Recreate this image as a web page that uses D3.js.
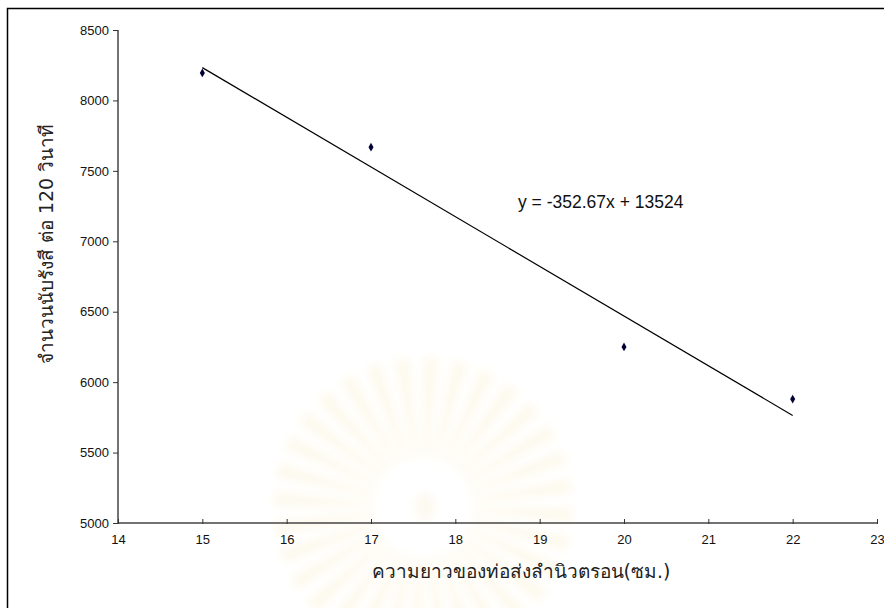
<html>
  <head>
    <title>Thai scatter with trendline</title>
    <script src="https://d3js.org/d3.v7.min.js"></script>
    <style>
      body { margin: 0; background: #fff; }
      .tick text { font-family: "Liberation Sans", Arial, sans-serif; }
    </style>
  </head>
  <body>
    <svg id="chart" width="884" height="608"></svg>
    <script>

    // data
    const lengths = [15, 17, 20, 22];              // ความยาวของท่อ (ซม.)
    const counts  = [8195, 7668, 6250, 5880];      // นับ/120 วินาที
    const xTicks = [14, 15, 16, 17, 18, 19, 20, 21, 22, 23];
    const yTicks = [5000, 5500, 6000, 6500, 7000, 7500, 8000, 8500];
    const equationLabel = "y = -352.67x + 13524";
    const xTitle = "ความยาวของท่อส่งลำนิวตรอน(ซม.)";
    const yTitle = "จำนวนนับรังสี ต่อ 120 วินาที";

    const svg = d3.select("svg#chart");
    const margins = {"top":30, "right":7, "bottom":85, "left":118};
    const width = +svg.attr("width");
    const height = +svg.attr("height");

    const xScale = d3.scaleLinear().domain([14, 23]).range([margins.left, width - margins.right]);
    const yScale = d3.scaleLinear().domain([5000, 8500]).range([height - margins.bottom, margins.top]);

    // very faint watermark behind everything
    svg.append("defs").append("filter").attr("id", "soft")
      .append("feGaussianBlur").attr("stdDeviation", 4);
    let mark = svg.append("g").attr("transform", "translate(423,507)").attr("filter", "url(#soft)");
    const rays = 32;
    for (let i = 0; i < rays; i++) {
      let a0 = (i / rays) * 2 * Math.PI;
      let a1 = a0 + Math.PI / rays * 1.1;
      mark.append("path")
        .attr("d", d3.arc().innerRadius(50).outerRadius(150).startAngle(a0).endAngle(a1)())
        .attr("fill", "#fdfaee");
    }
    mark.append("ellipse").attr("cx", 2).attr("cy", 0).attr("rx", 10).attr("ry", 14)
        .attr("fill", "#fcf9f0");

    // outer frame
    svg.append("rect")
      .attr("x", 7.5).attr("y", 8.5)
      .attr("width", width).attr("height", height)
      .attr("fill", "none").attr("stroke", "#000").attr("stroke-width", 1.5);

    // axes
    let leftAxis = d3.axisLeft(yScale).tickValues(yTicks).tickSize(5).tickPadding(4).tickFormat(d3.format("d"));
    let bottomAxis = d3.axisBottom(xScale).tickValues(xTicks).tickSize(0).tickPadding(12);

    let yAx = svg.append("g")
      .attr("class", "y axis")
      .attr("transform", "translate(" + margins.left + ",0)")
      .call(leftAxis);
    let xAx = svg.append("g")
      .attr("class", "x axis")
      .attr("transform", "translate(0," + (height - margins.bottom) + ")")
      .call(bottomAxis);

    [yAx, xAx].forEach(ax => {
      ax.select(".domain").attr("stroke", "#444").attr("stroke-width", 1.5);
      ax.selectAll(".tick line").attr("stroke", "#333");
      ax.selectAll(".tick text").attr("font-size", 13).attr("fill", "#111");
    });
    yAx.select(".domain").attr("d", "M0," + yScale(5000) + "V" + yScale(8500));
    xAx.select(".domain").attr("d", "M" + xScale(14) + ",0H" + xScale(23));
    // small upward ticks on the x axis
    xAx.selectAll(".tick line").attr("y1", 1).attr("y2", -4);

    // least squares trendline through the points
    const xm = d3.mean(lengths), ym = d3.mean(counts);
    const slope = d3.sum(lengths, (x, i) => (x - xm) * (counts[i] - ym)) / d3.sum(lengths, x => (x - xm) * (x - xm));
    const intercept = ym - slope * xm;
    const ends = d3.extent(lengths);

    svg.append("line")
      .attr("x1", xScale(ends[0])).attr("y1", yScale(slope * ends[0] + intercept))
      .attr("x2", xScale(ends[1])).attr("y2", yScale(slope * ends[1] + intercept))
      .attr("stroke", "#000").attr("stroke-width", 1.2);

    // diamond markers
    const points = lengths.map((x, i) => ({x: x, y: counts[i]}));
    svg.selectAll("path.pt").data(points)
      .join("path").attr("class", "pt")
      .attr("d", d3.symbol().type(d3.symbolDiamond).size(22))
      .attr("transform", d => "translate(" + xScale(d.x) + "," + yScale(d.y) + ")")
      .attr("fill", "#000033");

    // equation
    svg.append("text")
      .attr("x", 518).attr("y", 208)
      .attr("font-family", "Liberation Sans, Arial, sans-serif")
      .attr("font-size", 17.5)
      .attr("fill", "#111")
      .text(equationLabel);

    // titles
    svg.append("text")
      .attr("x", 521).attr("y", 578)
      .attr("text-anchor", "middle")
      .attr("font-family", "DejaVu Sans, Noto Sans, sans-serif")
      .attr("font-size", 19)
      .attr("fill", "#222")
      .text(xTitle);

    svg.append("text")
      .attr("transform", "translate(53,244) rotate(-90)")
      .attr("text-anchor", "middle")
      .attr("font-family", "DejaVu Sans, Noto Sans, sans-serif")
      .attr("font-size", 19)
      .attr("fill", "#222")
      .text(yTitle);

    </script>
  </body>
</html>
